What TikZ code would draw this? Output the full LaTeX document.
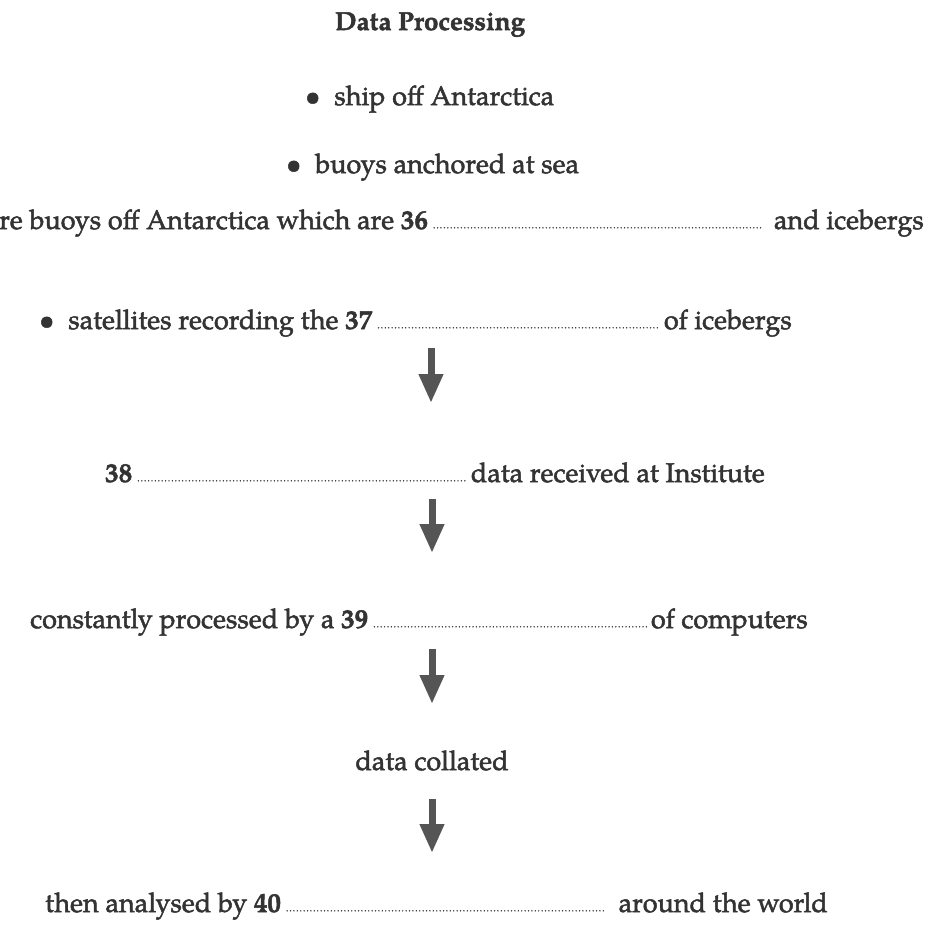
\documentclass[tikz,border=0pt]{standalone}
\usepackage{fontspec}
\setmainfont{TeX Gyre Pagella}[FakeBold=1.8]
\usetikzlibrary{arrows.meta}
\definecolor{ink}{HTML}{333333}
\definecolor{arrowgray}{HTML}{555555}
\begin{document}
\begin{tikzpicture}[x=1pt,y=-1pt,
  txt/.style={inner sep=0pt, text=ink, font=\fontsize{27}{32}\selectfont},
  lt/.style={txt, anchor=base west},
  rt/.style={txt, anchor=base east},
  ct/.style={txt, anchor=base},
  leader/.style={draw=ink, line width=1.6pt, line cap=round, dash pattern=on 0pt off 3.4pt},
  flow/.style={draw=arrowgray, line width=7pt, -{Triangle[width=23pt,length=29pt,fill=arrowgray]}}
]
\useasboundingbox (0,0) rectangle (925,934);
\clip (0,0) rectangle (925,934);

% title
\node[ct, font=\fontsize{26}{30}\selectfont\bfseries] (title) at (430,30) {Data Processing};

% bullets
\node[lt] (ship) at (305,105) {\textbullet\hspace{14pt}ship off Antarctica};
\node[lt] (buoys) at (286,173) {\textbullet\hspace{14pt}buoys anchored at sea};

% line 4
\node[lt] (l4a) at (-1,229) {re buoys off Antarctica which are \textbf{36}};
\node[rt] (l4b) at (924,229) {and icebergs};
\draw[leader] ([xshift=6pt,yshift=1.2pt]l4a.base east) -- ([xshift=-12pt,yshift=1.2pt]l4b.base west);

% line 5
\node[lt] (l5a) at (39,329) {\textbullet\hspace{14pt}satellites recording the \textbf{37}};
\node[rt] (l5b) at (792,329) {of icebergs};
\draw[leader] ([xshift=6pt,yshift=1.2pt]l5a.base east) -- ([xshift=-4pt,yshift=1.2pt]l5b.base west);

% arrow 1
\coordinate (a1s) at (431,348);
\coordinate (a1e) at (431,403);
\draw[flow] (a1s) -- (a1e);

% line 6
\node[lt] (l6a) at (105,482) {\textbf{38}};
\node[rt] (l6b) at (765,482) {data received at Institute};
\draw[leader] ([xshift=6pt,yshift=1.2pt]l6a.base east) -- ([xshift=-4pt,yshift=1.2pt]l6b.base west);

% arrow 2
\coordinate (a2s) at (432,499);
\coordinate (a2e) at (432,553);
\draw[flow] (a2s) -- (a2e);

% line 7
\node[lt] (l7a) at (30,628) {constantly processed by a \textbf{39}};
\node[rt] (l7b) at (808,628) {of computers};
\draw[leader] ([xshift=6pt,yshift=1.2pt]l7a.base east) -- ([xshift=-4pt,yshift=1.2pt]l7b.base west);

% arrow 3
\coordinate (a3s) at (432,649);
\coordinate (a3e) at (432,704);
\draw[flow] (a3s) -- (a3e);

% line 8
\node[ct] (l8) at (432,770) {data collated};

% arrow 4
\coordinate (a4s) at (432,799);
\coordinate (a4e) at (432,853);
\draw[flow] (a4s) -- (a4e);

% line 9
\node[lt] (l9a) at (45,912) {then analysed by \textbf{40}};
\node[rt] (l9b) at (828,912) {around the world};
\draw[leader] ([xshift=6pt,yshift=1.2pt]l9a.base east) -- ([xshift=-12pt,yshift=1.2pt]l9b.base west);
\end{tikzpicture}
\end{document}
